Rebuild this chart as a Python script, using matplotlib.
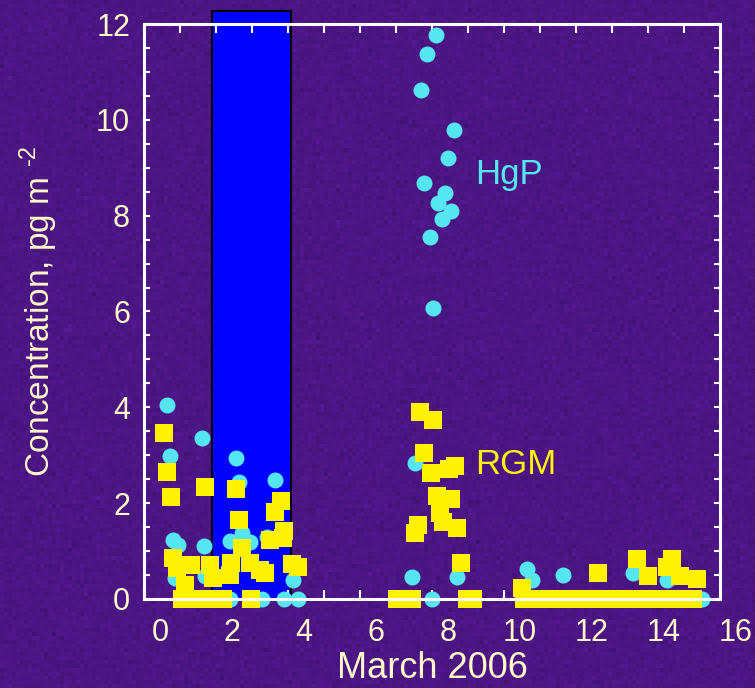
#!/usr/bin/env python3
# -*- coding: utf-8 -*-
"""
Particulate (HgP) and reactive gaseous (RGM) mercury concentrations, March 2006.
The blue band marks the early-March sampling period.
"""
# =============================================================================
# Import functions
# =============================================================================

import numpy as np
import matplotlib.pyplot as plt
import matplotlib.transforms as mtransforms

# =============================================================================
# Data (day of March 2006, concentration in pg m-2)
# =============================================================================

#HgP measurements
hgp_day = [0.63, 1.60, 0.72, 2.56, 2.64, 3.64, 0.81, 0.95, 1.68, 2.39, 2.71,
           2.94, 3.41, 0.86, 0.90, 1.69, 4.15, 1.20, 1.90, 2.39, 3.27, 3.89,
           4.28,
           8.11, 7.87, 7.69, 8.61, 8.44, 7.78, 8.36, 8.18, 8.53, 8.27, 7.94,
           8.02, 7.53, 7.44, 8.69, 7.20, 8.00,
           10.63, 10.77, 11.65, 13.59, 14.52, 10.50, 12.00, 13.00, 14.00, 15.49]
hgp_conc = [4.05, 3.37, 2.98, 2.94, 2.45, 2.48, 1.23, 1.13, 1.11, 1.22, 1.37,
            1.18, 1.30, 0.43, 0.62, 0.47, 0.40, 0.00, 0.00, 0.00, 0.00, 0.00,
            0.00,
            11.77, 11.37, 10.62, 9.79, 9.20, 8.69, 8.47, 8.27, 8.10, 7.92, 7.55,
            6.07, 2.83, 0.45, 0.45, 0.00, 0.00,
            0.62, 0.40, 0.49, 0.54, 0.40, 0.00, 0.00, 0.00, 0.00, 0.00]

#RGM measurements
rgm_day = [0.57, 0.65, 0.74, 1.69, 2.57, 2.65, 3.82, 3.65, 3.90, 3.50, 3.87,
           0.81, 0.91, 1.32, 1.83, 1.93, 2.39, 2.71, 2.43, 2.94, 3.22, 3.36,
           4.10, 4.29, 1.14, 1.07, 1.50, 1.92, 2.20, 2.98,
           7.67, 8.04, 7.78, 7.96, 8.46, 8.64, 8.13, 8.53, 8.22, 8.31, 8.70,
           7.62, 7.53, 8.82, 7.03, 7.44, 8.96, 9.13,
           10.49, 12.60, 13.70, 13.99, 14.66, 14.52, 14.89, 15.35,
           10.57, 10.80, 11.05, 11.30, 11.55, 11.80, 12.05, 12.30, 12.55,
           12.80, 13.05, 13.30, 13.55, 13.80, 14.05, 14.30, 14.55, 14.80,
           15.05, 15.25]
rgm_conc = [3.46, 2.64, 2.12, 2.34, 2.29, 1.65, 2.05, 1.82, 1.41, 1.23, 1.27,
            0.86, 0.65, 0.71, 0.71, 0.43, 0.50, 1.06, 0.75, 0.75, 0.60, 0.55,
            0.74, 0.67, 0.29, 0.00, 0.00, 0.00, 0.00, 0.00,
            3.91, 3.74, 3.04, 2.62, 2.71, 2.78, 2.14, 2.08, 1.79, 1.61, 1.48,
            1.54, 1.37, 0.76, 0.00, 0.00, 0.00, 0.00,
            0.22, 0.54, 0.83, 0.47, 0.83, 0.67, 0.47, 0.42,
            0.00, 0.00, 0.00, 0.00, 0.00, 0.00, 0.00, 0.00, 0.00,
            0.00, 0.00, 0.00, 0.00, 0.00, 0.00, 0.00, 0.00, 0.00,
            0.00, 0.00]

#Sampling period band
band_start = 1.88
band_end = 4.08
band_top = 12.27

# =============================================================================
# Plotting
# =============================================================================

bg = '#4c1684'
txt = '#fff8c8'
cyan = '#55e6f2'
yellow = '#fff200'

params = {'font.family': 'Liberation Sans',
          'mathtext.fontset': 'custom',
          'mathtext.rm': 'Liberation Sans',
          'axes.labelsize': 24,
          'axes.linewidth': 2.2,
          'axes.edgecolor': 'white',
          'xtick.labelsize': 22,
          'ytick.labelsize': 22,
          'xtick.color': 'white',
          'ytick.color': 'white',
          'xtick.labelcolor': txt,
          'ytick.labelcolor': txt,
          'xtick.direction': 'in',
          'ytick.direction': 'in'}

plt.rcParams.update(params)

fig = plt.figure(figsize=(7.55, 6.88), dpi=100, facecolor=bg)

#Mottled purple backdrop
rng = np.random.default_rng(7)
coarse = rng.normal(0, 1, (172, 189))
coarse = np.kron(coarse, np.ones((4, 4)))[:688, :755]
fine = rng.normal(0, 1, (688, 755))
shade = 4*coarse + 2*fine
base = np.array([76, 22, 132], dtype=float)
tex = np.clip(base[None, None, :] + shade[:, :, None]*np.array([0.8, 0.3, 1.2]),
              0, 255)/255
fig.figimage(tex, xo=0, yo=0, zorder=-1)

ax = fig.add_axes([0.1907, 0.1294, 0.7629, 0.8357])
ax.set_facecolor('none')

#Sampling band, drawn a little past the top of the axes
ax.bar((band_start + band_end)/2, band_top, width=band_end - band_start,
       color='#0000ff', edgecolor='black', linewidth=1.5, zorder=1,
       clip_on=False)

ax.plot(hgp_day, hgp_conc, 'o', color=cyan, markersize=11.5,
        markeredgewidth=0, zorder=3, clip_on=False)
ax.plot(rgm_day, rgm_conc, 's', color=yellow, markersize=12.3,
        markeredgewidth=0, zorder=4, clip_on=False)

ax.text(9.2, 8.85, 'HgP', color=cyan, fontsize=25, ha='left', va='center')
ax.text(9.2, 2.8, 'RGM', color=yellow, fontsize=25, ha='left', va='center')

ax.set_xlim(0, 16)
ax.set_ylim(0, 12)
ax.set_xticks(np.arange(0, 17, 2))
ax.set_xticks(np.arange(1, 16, 2), minor=True)
ax.set_yticks(np.arange(0, 13, 2))
ax.set_yticks(np.arange(0, 12.1, 0.5), minor=True)

ax.tick_params(axis='x', which='both', length=6.5, width=1.5, top=True,
               pad=14)
ax.tick_params(axis='y', which='both', length=4.3, width=1.5, right=True,
               pad=10)

#Shift the day labels right of their ticks
shift = mtransforms.ScaledTranslation(0.16, 0, fig.dpi_scale_trans)
for lab in ax.get_xticklabels():
    lab.set_transform(lab.get_transform() + shift)

for s in ax.spines.values():
    s.set_zorder(5)

ax.set_xlabel('March 2006', color=txt, fontsize=26, labelpad=2)
ax.set_ylabel('Concentration, pg m $^{\\text{-2}}$', color=txt, labelpad=26)

plt.savefig('out.png', dpi=100, facecolor=bg)
